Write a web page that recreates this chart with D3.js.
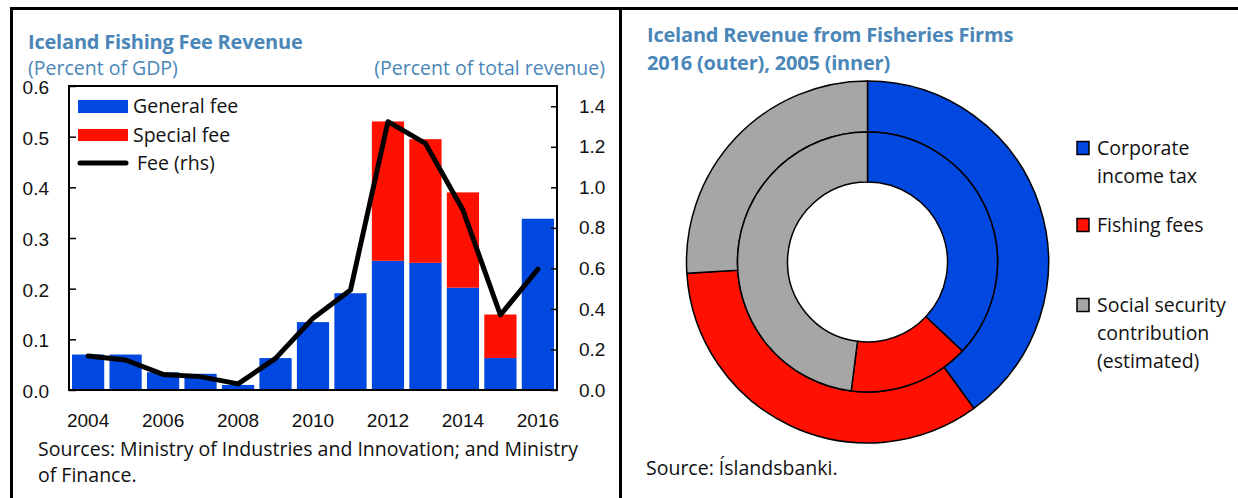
<!DOCTYPE html>
<html lang="en">
<head>
    <meta charset="UTF-8">
    <title>Iceland fishing fees</title>
    <script src="https://cdn.jsdelivr.net/npm/d3@7"></script>
    <style>
        body { margin: 0; background: #fff; }
        svg { font-family: "Open Sans", sans-serif; }
        .title { fill: #4a86b8; font-weight: bold; font-size: 20px; letter-spacing: -0.2px; }
        .sub { fill: #4a86b8; font-size: 19.5px; }
        .tick text { font-size: 19px; fill: #111; }
    </style>
</head>
<body>
<script>
    // left chart data
    const years = [2004, 2005, 2006, 2007, 2008, 2009, 2010, 2011, 2012, 2013, 2014, 2015, 2016];
    const generalFee = [0.07, 0.07, 0.035, 0.032, 0.01, 0.063, 0.134, 0.191, 0.255, 0.251, 0.202, 0.063, 0.338];
    const specialFee = [0, 0, 0, 0, 0, 0, 0, 0, 0.275, 0.244, 0.188, 0.086, 0];
    const feeRhs = [0.168, 0.148, 0.077, 0.066, 0.03, 0.156, 0.354, 0.493, 1.324, 1.217, 0.888, 0.37, 0.596];
    const leftTicks = [0, 0.1, 0.2, 0.3, 0.4, 0.5, 0.6];
    const rightTicks = [0, 0.2, 0.4, 0.6, 0.8, 1.0, 1.2, 1.4];
    const yearLabels = [2004, 2006, 2008, 2010, 2012, 2014, 2016];

    // donut data
    const donutCats = ["Corporate income tax", "Fishing fees", "Social security contribution (estimated)"];
    const outer2016 = [40, 34, 26];
    const inner2005 = [37, 15, 48];

    const blue = "#0048df", red = "#ff1000", grey = "#a6a6a6", ink = "#111";
    const fs = "19.5px";

    const svg = d3.select("body").append("svg")
        .attr("width", 1238)
        .attr("height", 498);

    // panel frames
    svg.append("line").attr("x1", 10).attr("x2", 1238).attr("y1", 8.5).attr("y2", 8.5)
        .attr("stroke", "#000").attr("stroke-width", 3);
    svg.append("line").attr("x1", 11.5).attr("x2", 11.5).attr("y1", 7).attr("y2", 498)
        .attr("stroke", "#000").attr("stroke-width", 3);
    svg.append("line").attr("x1", 620.5).attr("x2", 620.5).attr("y1", 7).attr("y2", 498)
        .attr("stroke", "#000").attr("stroke-width", 3);

    //---- left chart
    const L = {left: 69, right: 557, top: 86, bottom: 390};

    svg.append("text").attr("class", "title").attr("x", 28).attr("y", 49).text("Iceland Fishing Fee Revenue");
    svg.append("text").attr("class", "sub").attr("x", 28).attr("y", 75).text("(Percent of GDP)");
    svg.append("text").attr("class", "sub").attr("x", 605).attr("y", 75).attr("text-anchor", "end")
        .text("(Percent of total revenue)");

    const x = d3.scaleBand().domain(years).range([L.left, L.right])
        .paddingInner(0.14).paddingOuter(0.08);
    const yL = d3.scaleLinear().domain([0, 0.6]).range([L.bottom, L.top]);
    const yR = d3.scaleLinear().domain([0, 1.5]).range([L.bottom, L.top]);

    const barData = years.map((yr, i) => ({year: yr, g: generalFee[i], s: specialFee[i], f: feeRhs[i]}));

    svg.selectAll(".gen").data(barData).enter().append("rect")
        .attr("class", "gen")
        .attr("x", d => x(d.year))
        .attr("width", x.bandwidth())
        .attr("y", d => yL(d.g))
        .attr("height", d => yL(0) - yL(d.g))
        .attr("fill", blue);

    svg.selectAll(".spec").data(barData.filter(d => d.s > 0)).enter().append("rect")
        .attr("class", "spec")
        .attr("x", d => x(d.year))
        .attr("width", x.bandwidth())
        .attr("y", d => yL(d.g + d.s))
        .attr("height", d => yL(d.g) - yL(d.g + d.s))
        .attr("fill", red);

    const line = d3.line()
        .x(d => x(d.year) + x.bandwidth() / 2)
        .y(d => yR(d.f));
    svg.append("path").datum(barData)
        .attr("d", line)
        .attr("fill", "none")
        .attr("stroke", "#000")
        .attr("stroke-width", 5)
        .attr("stroke-linejoin", "round")
        .attr("stroke-linecap", "round");

    // axes
    const axL = svg.append("g").attr("transform", `translate(${L.left},0)`)
        .call(d3.axisLeft(yL).tickValues(leftTicks).tickFormat(d3.format(".1f"))
            .tickSizeInner(-7).tickSizeOuter(0).tickPadding(20));
    const axR = svg.append("g").attr("transform", `translate(${L.right},0)`)
        .call(d3.axisRight(yR).tickValues(rightTicks).tickFormat(d3.format(".1f"))
            .tickSizeInner(-6).tickSizeOuter(0).tickPadding(22));
    const axB = svg.append("g").attr("transform", `translate(0,${L.bottom})`)
        .call(d3.axisBottom(x).tickValues(yearLabels).tickSize(0).tickPadding(24));
    [axL, axR, axB].forEach(a => {
        a.select(".domain").remove();
        a.selectAll("line").attr("stroke", "#000").attr("stroke-width", 1.5);
    });
    axL.selectAll("text").attr("dy", "0.4em");

    svg.append("rect")
        .attr("x", L.left).attr("y", L.top)
        .attr("width", L.right - L.left).attr("height", L.bottom - L.top)
        .attr("fill", "none").attr("stroke", "#000").attr("stroke-width", 2);

    // legend
    const leg = svg.append("g").style("font-size", fs).attr("fill", ink);
    leg.append("rect").attr("x", 78).attr("y", 100).attr("width", 50).attr("height", 13).attr("fill", blue);
    leg.append("text").attr("x", 133).attr("y", 113).text("General fee");
    leg.append("rect").attr("x", 78).attr("y", 129).attr("width", 50).attr("height", 12).attr("fill", red);
    leg.append("text").attr("x", 133).attr("y", 142).text("Special fee");
    leg.append("line").attr("x1", 80).attr("x2", 126).attr("y1", 163).attr("y2", 163)
        .attr("stroke", "#000").attr("stroke-width", 5).attr("stroke-linecap", "round");
    leg.append("text").attr("x", 137).attr("y", 170).text("Fee (rhs)");

    svg.append("text").attr("x", 38).attr("y", 456).style("font-size", fs).attr("fill", ink)
        .text("Sources: Ministry of Industries and Innovation; and Ministry");
    svg.append("text").attr("x", 38).attr("y", 482).style("font-size", fs).attr("fill", ink)
        .text("of Finance.");

    //---- right chart: donut
    svg.append("text").attr("class", "title").attr("x", 647).attr("y", 42).text("Iceland Revenue from Fisheries Firms");
    svg.append("text").attr("class", "title").attr("x", 647).attr("y", 70).text("2016 (outer), 2005 (inner)");

    const colors = d3.scaleOrdinal().domain(donutCats).range([blue, red, grey]);
    const pie = d3.pie().sort(null).value(d => d.v);
    const cx = 867.5, cy = 262;
    const donut = svg.append("g").attr("transform", `translate(${cx},${cy})`);

    const rings = [
        {vals: outer2016, r0: 130, r1: 181},
        {vals: inner2005, r0: 80, r1: 130}
    ];
    rings.forEach(ring => {
        const arc = d3.arc().innerRadius(ring.r0).outerRadius(ring.r1);
        donut.append("g").selectAll("path")
            .data(pie(donutCats.map((c, i) => ({c: c, v: ring.vals[i]}))))
            .enter().append("path")
            .attr("d", arc)
            .attr("fill", d => colors(d.data.c))
            .attr("stroke", "#000")
            .attr("stroke-width", 1.5);
    });

    // donut legend
    const legendLines = [
        {cat: donutCats[0], lines: ["Corporate", "income tax"], y: 148},
        {cat: donutCats[1], lines: ["Fishing fees"], y: 225},
        {cat: donutCats[2], lines: ["Social security", "contribution", "(estimated)"], y: 305}
    ];
    const dl = svg.append("g").style("font-size", fs).attr("fill", ink);
    legendLines.forEach(item => {
        dl.append("rect").attr("x", 1077).attr("y", item.y - 6.5).attr("width", 12).attr("height", 13)
            .attr("fill", colors(item.cat)).attr("stroke", "#000").attr("stroke-width", 1.5);
        item.lines.forEach((t, j) => {
            dl.append("text").attr("x", 1097).attr("y", item.y + 7 + j * 28).attr("fill", ink).text(t);
        });
    });

    svg.append("text").attr("x", 646).attr("y", 475).style("font-size", fs).attr("fill", ink)
        .text("Source: Íslandsbanki.");
</script>
</body>
</html>
